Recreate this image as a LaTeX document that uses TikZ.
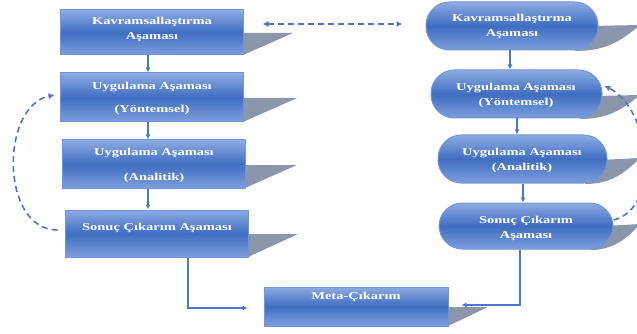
\documentclass[tikz,border=0pt]{standalone}
\usepackage{fontspec}
\setmainfont{Liberation Serif}[FakeStretch=1.38]
\usetikzlibrary{arrows.meta}
\definecolor{bdark}{HTML}{3F6DC2}
\definecolor{blight}{HTML}{8EABE2}
\definecolor{bedge}{HTML}{6E96DC}
\definecolor{shad}{HTML}{8C96AA}
\definecolor{arrowc}{HTML}{4A78CC}
\tikzset{
  sqbox/.style={draw=bedge, line width=1pt, top color=blight, bottom color=blight!80!bdark, middle color=bdark, inner sep=0pt},
  rbox/.style={sqbox, rounded corners=23.5pt},
  txt/.style={text=white, font=\bfseries\fontsize{10.5}{15}\selectfont, align=center, inner sep=0pt},
  shadowshape/.style={fill=shad, draw=none},
  flow/.style={draw=arrowc, line width=1.2pt, -{Latex[length=5pt,width=5pt]}},
  dashflow/.style={draw=arrowc, line width=1.6pt, dash pattern=on 6pt off 4pt, -{Latex[length=6pt,width=6pt]}}
}
\begin{document}
\begin{tikzpicture}[x=1pt,y=-1pt]
\useasboundingbox (0,0) rectangle (637,334);
% shadows left
\fill[shadowshape] (243,33) -- (293,33) -- (243,55) -- cycle;
\fill[shadowshape] (243,98) -- (297,98) -- (243,122) -- cycle;
\fill[shadowshape] (245,165) -- (297,165) -- (245,188) -- cycle;
\fill[shadowshape] (248,234) -- (298,234) -- (248,257) -- cycle;
\fill[shadowshape] (448,307) -- (488,307) -- (448,326) -- cycle;
% shadows right
\fill[shadowshape] (590,26) -- (640,25) .. controls (620,42) and (605,51) .. (575,51) -- cycle;
\fill[shadowshape] (595,96) -- (640,95) .. controls (622,110) and (607,119) .. (580,119) -- cycle;
\fill[shadowshape] (600,160) -- (640,158) .. controls (624,174) and (610,184) .. (585,184) -- cycle;
\fill[shadowshape] (605,226) -- (640,224) .. controls (626,240) and (612,250) .. (590,250) -- cycle;
% left boxes
\node[sqbox, minimum width=183pt, minimum height=45pt] (b1) at (151.5,32.5) {};
\node[sqbox, minimum width=183pt, minimum height=49pt] (b2) at (151.5,97.5) {};
\node[sqbox, minimum width=183pt, minimum height=48pt] (b3) at (153.5,164) {};
\node[sqbox, minimum width=183pt, minimum height=47pt] (b4) at (156.5,233.5) {};
\node[sqbox, minimum width=184pt, minimum height=39pt] (meta) at (356,306.5) {};
% right boxes
\node[rbox, minimum width=172pt, minimum height=48pt] (r1) at (512,26) {};
\node[rbox, minimum width=171pt, minimum height=48pt] (r2) at (516.5,94) {};
\node[rbox, minimum width=169pt, minimum height=48pt] (r3) at (522.5,159) {};
\node[rbox, minimum width=174pt, minimum height=46pt] (r4) at (526,226) {};
% texts
\node[txt] (t1) at (152,29.5) {Kavramsallaştırma\\Aşaması};
\node[txt] (t2) at (152,98.5) {Uygulama Aşaması\\[8pt](Yöntemsel)};
\node[txt] (t3) at (154,165.5) {Uygulama Aşaması\\[10pt](Analitik)};
\node[txt] (t4) at (157,228) {Sonuç Çıkarım Aşaması};
\node[txt] (tm) at (356,297) {Meta-Çıkarım};
\node[txt] (tr1) at (512,26.5) {Kavramsallaştırma\\Aşaması};
\node[txt] (tr2) at (516,95) {Uygulama Aşaması\\(Yöntemsel)};
\node[txt] (tr3) at (522,160) {Uygulama Aşaması\\(Analitik)};
\node[txt] (tr4) at (526,228) {Sonuç Çıkarım\\Aşaması};
% solid arrows
\draw[flow] (b1.south -| 148,0) -- (b2.north -| 148,0);
\draw[flow] (b2.south -| 148,0) -- (b3.north -| 148,0);
\draw[flow] (b3.south -| 148,0) -- (b4.north -| 148,0);
\draw[flow] (r1.south -| 510,0) -- (r2.north -| 510,0);
\draw[flow] (r2.south -| 517,0) -- (r3.north -| 517,0);
\draw[flow] (r3.south -| 523,0) -- (r4.north -| 523,0);
\draw[flow, shorten >=16pt] (b4.south -| 188,0) |- (meta.west |- 0,308);
\draw[flow, shorten >=13pt] (r4.south -| 520,0) |- (meta.east |- 0,305);
% dashed
\draw[dashflow, {Latex[length=6pt,width=6pt]}-{Latex[length=6pt,width=6pt]}, shorten <=19pt, shorten >=23pt] (b1.east |- 0,24) -- (r1.west |- 0,24);
\draw[dashflow, shorten <=7pt, shorten >=5pt] (b4.west |- 0,230) .. controls (0,230) and (0,106) .. (b2.west |- 0,94);
\draw[dashflow, shorten >=2pt] (r4.east |- 0,220) .. controls (662,208) and (650,108) .. (r2.east |- 0,85);
\end{tikzpicture}
\end{document}
